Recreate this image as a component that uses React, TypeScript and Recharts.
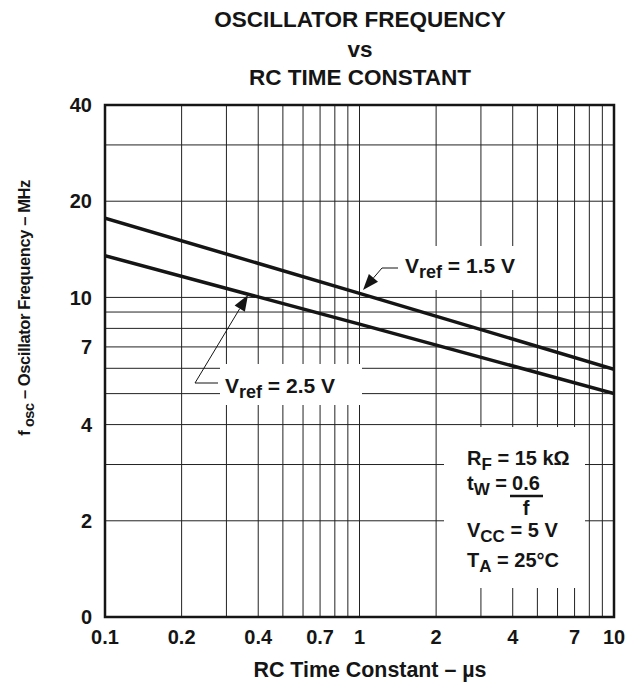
import { LineChart, Line, XAxis, YAxis, CartesianGrid, ReferenceArea, Customized } from "recharts";

// RC time constant (µs) and oscillator frequency (MHz)
const rcTime = [0.1, 1, 10];
const vref15 = [17.7, 10.3, 5.96];
const vref25 = [13.5, 8.25, 5.0];

const xTicks = [0.1, 0.2, 0.4, 0.7, 1, 2, 4, 7, 10];
const yTicks = [1, 2, 4, 7, 10, 20, 40];
const xGrid = [0.2, 0.3, 0.4, 0.5, 0.6, 0.7, 0.8, 0.9, 1, 2, 3, 4, 5, 6, 7, 8, 9];
const yGrid = [2, 3, 4, 5, 6, 7, 8, 9, 10, 20, 30];

const data = rcTime.map((t, i) => ({ t, v15: vref15[i], v25: vref25[i] }));

const font = "'Liberation Sans', Arial, Helvetica, sans-serif";
const ink = "#151515";

function Annotations() {
  return (
    <g fontFamily={font} fontWeight="bold" fill={ink}>
      {/* white patches behind the labels, cutting the grid like the original */}
      <rect x={372} y={246} width={152} height={44} fill="#fff" />
      <rect x={220} y={364} width={142} height={41} fill="#fff" />
      <rect x={444} y={427} width={141} height={161} fill="#fff" />

      <text x={360} y={27} fontSize={22.5} textAnchor="middle">OSCILLATOR FREQUENCY</text>
      <text x={360} y={57} fontSize={22.5} textAnchor="middle">vs</text>
      <text x={360} y={85} fontSize={22.5} textAnchor="middle">RC TIME CONSTANT</text>

      <text x={370} y={677} fontSize={21.4} textAnchor="middle">RC Time Constant – µs</text>
      <text transform="translate(30,308) rotate(-90)" fontSize={16.5} letterSpacing={-0.4} textAnchor="middle">
        f<tspan fontSize={14.5} dy={4}> osc</tspan>
        <tspan dy={-4}> – Oscillator Frequency – MHz</tspan>
      </text>

      {/* Vref = 1.5 V callout */}
      <text x={405} y={273} fontSize={21}>
        V<tspan fontSize={18} dy={5}>ref</tspan>
        <tspan dy={-5}> = 1.5 V</tspan>
      </text>
      <polyline points="373.5,277.9 382,268 398,268" fill="none" stroke={ink} strokeWidth={1} />
      <polygon points="363,290 378,281.8 368.9,274" fill={ink} />

      {/* Vref = 2.5 V callout */}
      <text x={225} y={393} fontSize={21}>
        V<tspan fontSize={18} dy={5}>ref</tspan>
        <tspan dy={-5}> = 2.5 V</tspan>
      </text>
      <polyline points="239.7,308.7 195,383 218,383" fill="none" stroke={ink} strokeWidth={1} />
      <polygon points="248,295 244.9,311.8 234.6,305.6" fill={ink} />

      {/* conditions */}
      <text x={467} y={465} fontSize={20}>
        R<tspan fontSize={17} dy={5}>F</tspan>
        <tspan dy={-5}> = 15 kΩ</tspan>
      </text>
      <text x={467} y={490} fontSize={20}>
        t<tspan fontSize={17} dy={5}>W</tspan>
        <tspan dy={-5}> = </tspan>
      </text>
      <text x={526} y={490} fontSize={20} textAnchor="middle">0.6</text>
      <line x1={510} x2={543} y1={496} y2={496} stroke={ink} strokeWidth={2.5} />
      <text x={526} y={515} fontSize={20} textAnchor="middle">f</text>
      <text x={467} y={537} fontSize={20}>
        V<tspan fontSize={17} dy={5}>CC</tspan>
        <tspan dy={-5}> = 5 V</tspan>
      </text>
      <text x={467} y={567} fontSize={20}>
        T<tspan fontSize={17} dy={5}>A</tspan>
        <tspan dy={-5}> = 25°C</tspan>
      </text>
    </g>
  );
}

const tickStyle = { fontSize: 20, fontWeight: "bold", fill: ink, fontFamily: font };

export default function App() {
  return (
    <div style={{ position: "absolute", left: 0, top: 0, width: 631, height: 694, background: "#fff" }}>
      <LineChart width={631} height={694} data={data} margin={{ top: 105, right: 17, bottom: 37, left: 45 }}>
        <CartesianGrid
          stroke="#222"
          strokeWidth={1}
          horizontalValues={yGrid}
          verticalValues={xGrid}
        />
        <XAxis
          dataKey="t"
          type="number"
          scale="log"
          domain={[0.1, 10]}
          ticks={xTicks}
          allowDataOverflow
          height={40}
          axisLine={false}
          tickLine={false}
          tickSize={0}
          tickMargin={13}
          tick={tickStyle}
          tickFormatter={(v: number) => String(v)}
          interval={0}
        />
        <YAxis
          type="number"
          scale="log"
          domain={[1, 40]}
          ticks={yTicks}
          allowDataOverflow
          width={60}
          axisLine={false}
          tickLine={false}
          tickSize={0}
          tickMargin={13}
          tick={tickStyle}
          tickFormatter={(v: number) => (v === 1 ? "0" : String(v))}
          interval={0}
        />
        <ReferenceArea x1={0.1} x2={10} y1={1} y2={40} fill="none" stroke={ink} strokeWidth={2.5} />
        <Line dataKey="v15" type="linear" stroke={ink} strokeWidth={3.5} dot={false} activeDot={false} isAnimationActive={false} />
        <Line dataKey="v25" type="linear" stroke={ink} strokeWidth={3.5} dot={false} activeDot={false} isAnimationActive={false} />
        <Customized component={Annotations} />
      </LineChart>
    </div>
  );
}
